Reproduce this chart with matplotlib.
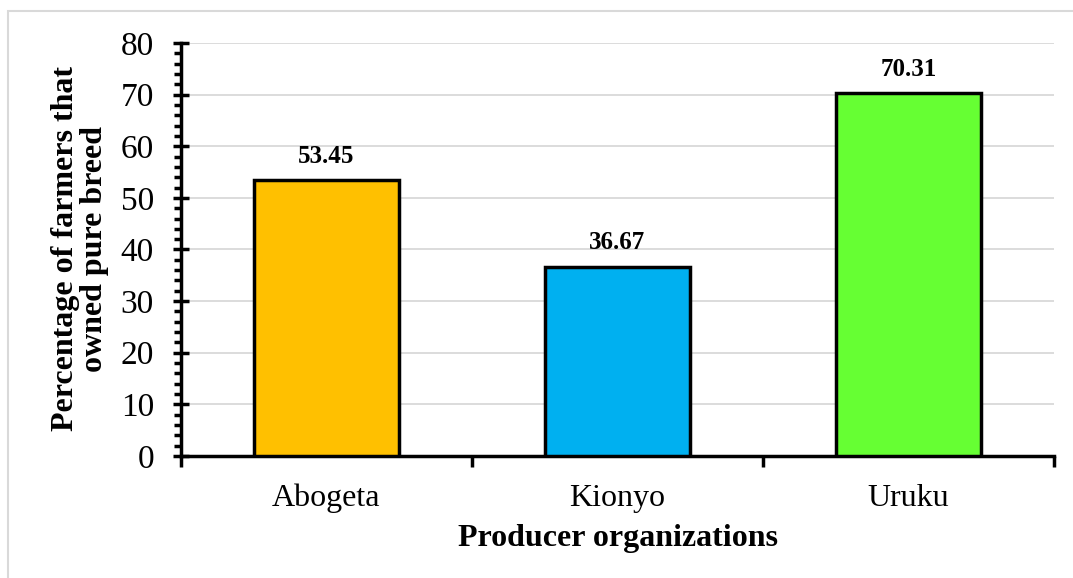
import matplotlib.pyplot as plt
from matplotlib.patches import Rectangle
from matplotlib.ticker import MultipleLocator

plt.rcParams['font.family'] = ['Liberation Serif', 'DejaVu Serif']

organizations = ['Abogeta', 'Kionyo', 'Uruku']
percentages = [53.45, 36.67, 70.31]
bar_colors = ['#FFC000', '#00B0F0', '#66FF33']

fig = plt.figure(figsize=(10.73, 5.78), dpi=100)
# light frame round the chart area
fig.patches.append(Rectangle((8 / 1073, -0.1), 1.2, 1 - 11 / 578 + 0.1, transform=fig.transFigure,
                             fill=False, edgecolor='#D9D9D9', linewidth=1.5))
ax = fig.add_axes([181 / 1073, 1 - 456 / 578, (1054 - 181) / 1073, (456 - 43) / 578])

x = range(len(organizations))
bars = ax.bar(x, percentages, width=0.5, color=bar_colors, edgecolor='black', linewidth=2.5, zorder=3)

for b, v in zip(bars, percentages):
    ax.text(b.get_x() + b.get_width() / 2, v + 2.4, f'{v:.2f}', ha='center', va='bottom',
            fontsize=18, fontweight='bold')

ax.set_xlim(-0.5, len(organizations) - 0.5)
ax.set_ylim(0, 80)
ax.yaxis.set_major_locator(MultipleLocator(10))
ax.yaxis.set_minor_locator(MultipleLocator(2))
ax.grid(axis='y', color='#D9D9D9', linewidth=1.3, zorder=0)
ax.set_axisbelow(True)

for s in ['top', 'right']:
    ax.spines[s].set_visible(False)
for s in ['left', 'bottom']:
    ax.spines[s].set_linewidth(2.5)

ax.tick_params(axis='y', which='major', direction='inout', length=11, width=2.5, labelsize=24, pad=14)
ax.tick_params(axis='y', which='minor', direction='out', length=5, width=2.5)

# category ticks on boundaries, labels at centres
ax.set_xticks([-0.5, 0.5, 1.5, 2.5])
ax.set_xticklabels([])
ax.set_xticks(list(x), minor=True)
ax.set_xticklabels(organizations, minor=True, fontsize=23)
ax.tick_params(axis='x', which='major', direction='out', length=8, width=2.5)
ax.tick_params(axis='x', which='minor', length=0, pad=20)

ax.set_xlabel('Producer organizations', fontsize=23, fontweight='bold')
ax.xaxis.set_label_coords(0.5, -0.165)
ax.set_ylabel('Percentage of farmers that\nowned pure breed', fontsize=23, fontweight='bold',
              linespacing=1.0, va='center')
ax.yaxis.set_label_coords(-0.1157, 0.502)

fig.savefig('out.png', dpi=100)
